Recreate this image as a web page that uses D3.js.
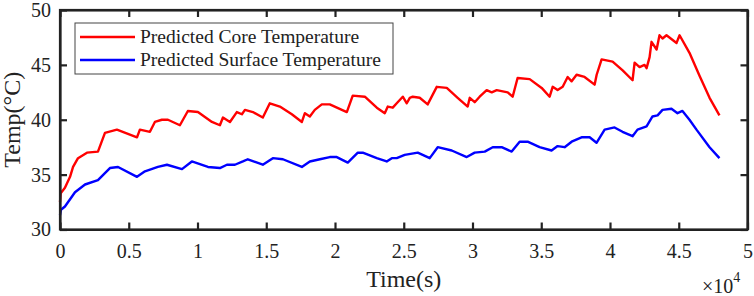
<!DOCTYPE html>
<html><head><meta charset="utf-8">
<script src="https://cdn.jsdelivr.net/npm/d3@7"></script>
<style>
body{margin:0;background:#fff}
svg{display:block}
text{font-family:"Liberation Serif","Times New Roman",serif;fill:#222}
</style>
</head><body><svg id="c" width="754" height="296"></svg>
<script>
// ---- data (time in seconds, temperature in °C) ----
const coreTime = [0,50,360,730,950,1310,1960,2760,3270,4140,5600,5810,6540,6900,7410,7850,8720,9300,10030,11050,11630,11850,12360,12860,13230,13450,14030,14750,15260,15990,16860,17590,17810,18170,18530,19040,19620,20860,21290,22170,23040,23620,23840,24200,24490,24930,25220,25440,25650,26160,26740,27400,28130,28920,29650,29800,30160,30520,31030,31400,31760,32560,32920,33280,34160,35030,35610,35830,36190,36560,36920,37210,37570,38150,38880,39030,39390,40190,40920,41640,41790,42150,42510,42660,42880,43020,43390,43600,43820,44110,44840,45060,45780,46510,47240,47960];
const coreTemp = [32.5,33.3,33.8,34.8,35.7,36.5,37.0,37.1,38.8,39.1,38.4,39.1,38.9,39.8,40.0,40.0,39.5,40.8,40.7,39.8,39.5,40.2,39.8,40.7,40.5,40.9,40.7,40.2,41.5,41.2,40.5,39.8,40.6,40.3,40.9,41.4,41.4,40.7,42.2,42.1,41.1,40.6,41.2,41.1,41.5,42.1,41.5,42.0,42.1,42.0,41.4,43.0,42.9,42.0,41.2,42.0,41.6,42.1,42.7,42.5,42.7,42.5,42.1,43.8,43.7,42.9,42.1,43.0,42.7,43.0,43.9,43.5,44.1,43.9,43.2,44.1,45.5,45.3,44.5,43.6,45.2,44.8,45.0,44.7,45.7,47.1,46.4,47.7,47.4,47.7,47.0,47.7,46.1,44.0,42.0,40.4];
const surfTime = [0,70,360,1090,1820,2760,3630,4220,5600,6180,7120,7780,8870,9590,10760,11630,12140,12720,13300,13660,14750,15480,16210,17590,18170,18900,19620,20130,20930,21660,22020,23040,23760,24130,24490,25070,26020,26890,27470,28490,29580,30160,30890,31470,32120,32850,33430,34010,34880,35750,36190,36700,37210,37930,38520,39020,39610,40330,40910,41640,42000,42660,43090,43460,43820,44470,44910,45270,45780,46290,47240,47960];
const surfTemp = [31.3,31.8,32.1,33.4,34.1,34.5,35.6,35.7,34.8,35.3,35.7,35.9,35.5,36.2,35.7,35.6,35.9,35.9,36.2,36.4,35.9,36.5,36.4,35.7,36.2,36.4,36.6,36.6,36.1,37.0,37.0,36.5,36.2,36.5,36.5,36.8,37.0,36.5,37.5,37.2,36.6,37.0,37.1,37.5,37.5,37.1,38.0,38.0,37.5,37.2,37.6,37.5,38.0,38.4,38.4,37.9,39.1,39.3,38.9,38.5,39.1,39.4,40.3,40.4,40.9,41.0,40.6,40.8,40.0,39.1,37.5,36.5];
const xTickValues = [0,5000,10000,15000,20000,25000,30000,35000,40000,45000,50000];
const xTickLabels = ["0","0.5","1","1.5","2","2.5","3","3.5","4","4.5","5"];
const yTickValues = [30,35,40,45,50];
const seriesNames = ["Predicted Core Temperature","Predicted Surface Temperature"];
const seriesColors = ["#ff0000","#0000ff"];

// ---- layout ----
const L = 60, R = 747.5, T = 10, B = 229.5;
const svg = d3.select("#c");
const x = d3.scaleLinear().domain([0,50000]).range([L,R]);
const y = d3.scaleLinear().domain([30,50]).range([B,T]);

// lines
const line = d3.line().x(d=>x(d[0])).y(d=>y(d[1]));
const series = [
  d3.zip(coreTime, coreTemp),
  d3.zip(surfTime, surfTemp)
];
series.forEach((s,i)=>{
  svg.append("path").datum(s).attr("d",line)
    .attr("fill","none").attr("stroke",seriesColors[i])
    .attr("stroke-width",2.4).attr("stroke-linejoin","round");
});

// axes (MATLAB style, inward ticks, boxed)
const tickLen = 7;
const fmt = (d)=>xTickLabels[xTickValues.indexOf(d)];
const axB = svg.append("g").attr("transform",`translate(0,${B})`)
  .call(d3.axisBottom(x).tickValues(xTickValues).tickFormat(fmt).tickSizeInner(-tickLen).tickSizeOuter(0).tickPadding(14));
const axT = svg.append("g").attr("transform",`translate(0,${T})`)
  .call(d3.axisTop(x).tickValues(xTickValues).tickFormat("").tickSizeInner(-tickLen).tickSizeOuter(0));
const axL = svg.append("g").attr("transform",`translate(${L},0)`)
  .call(d3.axisLeft(y).tickValues(yTickValues).tickSizeInner(-tickLen).tickSizeOuter(0).tickPadding(9));
const axR = svg.append("g").attr("transform",`translate(${R},0)`)
  .call(d3.axisRight(y).tickValues(yTickValues).tickFormat("").tickSizeInner(-tickLen).tickSizeOuter(0));
[axB,axT,axL,axR].forEach(g=>{
  g.select(".domain").attr("stroke","#222").attr("stroke-width",2.2);
  g.selectAll(".tick line").attr("stroke","#222").attr("stroke-width",2.2);
  g.selectAll(".tick text").attr("font-size",20).attr("font-family","Liberation Serif").attr("fill","#222");
});
// box
svg.append("rect").attr("x",L).attr("y",T).attr("width",R-L).attr("height",B-T)
  .attr("fill","none").attr("stroke","#222").attr("stroke-width",2.2);

// axis labels
svg.append("text").attr("x",(L+R)/2).attr("y",287).attr("text-anchor","middle")
  .attr("font-size",24).text("Time(s)");
svg.append("text").attr("transform",`translate(20,${(T+B)/2}) rotate(-90)`)
  .attr("text-anchor","middle").attr("font-size",24).text("Temp(°C)");
// x10^4
const ex = svg.append("text").attr("x",702).attr("y",293).attr("font-size",20);
ex.append("tspan").text("×10");
ex.append("tspan").attr("dy",-11).attr("font-size",14).text("4");

// legend
const lg = svg.append("g");
lg.append("rect").attr("x",75).attr("y",23).attr("width",318).attr("height",51)
  .attr("fill","#fff").attr("stroke","#444").attr("stroke-width",1);
seriesNames.forEach((n,i)=>{
  const yy = 37 + i*23;
  lg.append("line").attr("x1",80).attr("x2",135).attr("y1",yy).attr("y2",yy)
    .attr("stroke",seriesColors[i]).attr("stroke-width",2.4);
  lg.append("text").attr("x",140).attr("y",yy+6).attr("font-size",19.5).text(n);
});
</script>
</body></html>
